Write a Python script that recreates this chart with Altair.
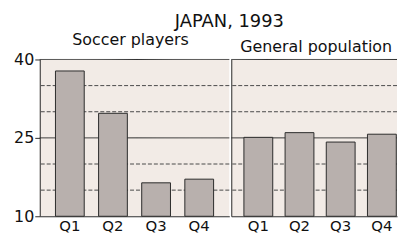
import altair as alt
import pandas as pd

quarters = ["Q1", "Q2", "Q3", "Q4"]
soccer = [37.8, 29.7, 16.4, 17.1]
general = [25.1, 26.0, 24.2, 25.7]
grid_vals = [15, 20, 25, 30, 35, 40]
grid_dashed = [True, True, False, True, True, False]
y_ticks = [10, 25, 40]

FONT = "DejaVu Sans"
FW = "normal"
BG = "#f2ebe6"
BAR = "#b8b0ad"
DARK = "#2b2b2b"
TXT = "#111111"

grid_df = pd.DataFrame({"v": grid_vals, "dashed": grid_dashed})


def panel(vals, title, width, pi, po, shift, first, tdx):
    df = pd.DataFrame({"q": quarters, "v": vals})
    if first:
        yaxis = alt.Axis(values=y_ticks, tickSize=5, labelPadding=1, domain=True,
                         domainColor=DARK, tickColor=DARK, grid=False, title=None,
                         labelFontSize=16, labelFont=FONT, labelFontWeight=FW,
                         labelColor=TXT)
    else:
        yaxis = alt.Axis(values=y_ticks, labels=False, ticks=False, domain=True,
                         domainColor=DARK, grid=False, title=None)
    yscale = alt.Scale(domain=[10, 40], nice=False, zero=False)
    xaxis = alt.Axis(labelAngle=0, ticks=False, domain=True, domainColor=DARK,
                     labelPadding=2, labelOffset=shift, title=None, labelFontSize=15,
                     labelFont=FONT, labelFontWeight=FW, labelColor=TXT)
    xscale = alt.Scale(paddingInner=pi, paddingOuter=po)

    rules = alt.Chart(grid_df).mark_rule(strokeWidth=1).encode(
        y=alt.Y("v:Q", scale=yscale, axis=yaxis),
        color=alt.condition("datum.dashed", alt.value("#4a4a4a"), alt.value(DARK)),
        strokeDash=alt.condition("datum.dashed", alt.value([4, 2]), alt.value([1, 0])),
    )
    bars = alt.Chart(df).mark_bar(fill=BAR, stroke=DARK, strokeWidth=1,
                                  xOffset=shift).encode(
        x=alt.X("q:N", sort=quarters, scale=xscale, axis=xaxis),
        y=alt.Y("v:Q", scale=yscale, axis=yaxis),
        y2=alt.datum(10),
    )
    return alt.layer(rules, bars).properties(
        width=width, height=158,
        title=alt.TitleParams(title, fontSize=16, font=FONT, fontWeight=FW,
                              color=TXT, offset=4, dx=tdx),
    )


p1 = panel(soccer, "Soccer players", 191, 0.333, 0.364, 0, True, -4)
p2 = panel(general, "General population", 167, 0.30, 0.162, 6, False, 2)

chart = alt.hconcat(p1, p2, spacing=0).properties(
    title=alt.TitleParams("JAPAN, 1993", fontSize=18, font=FONT, fontWeight=FW,
                          color=TXT, anchor="middle", offset=1, dx=24),
    padding={"left": 5, "top": 4, "right": 0, "bottom": 0},
).configure_view(fill=BG, stroke=None).configure_concat(spacing=0)

chart.save("out.html", embed_options={"renderer": "svg", "actions": False})
